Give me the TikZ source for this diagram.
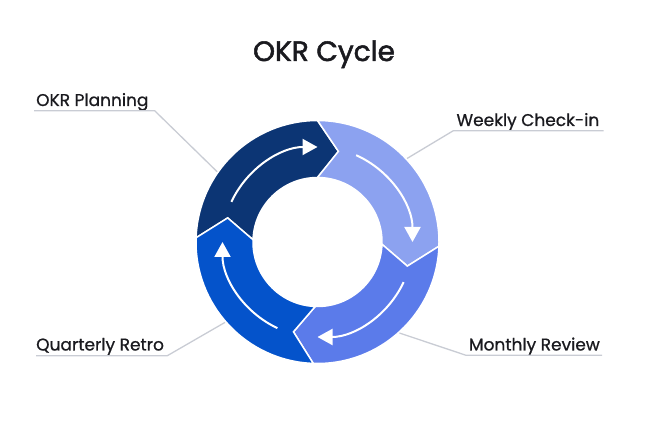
\documentclass[tikz,border=0pt]{standalone}
\usepackage{fontspec}
\setmainfont{Poppins}
\newfontfamily\okrlabelfont{Poppins}[FakeBold=0.9]
\newfontfamily\okrtitlefont{Poppins}[FakeBold=1.8]
\usetikzlibrary{calc,arrows.meta}

\definecolor{okrNavy}{HTML}{0C3574}
\definecolor{okrLight}{HTML}{8CA2F0}
\definecolor{okrMid}{HTML}{5B7BEA}
\definecolor{okrRoyal}{HTML}{0453CB}
\definecolor{okrText}{HTML}{1A1A1F}
\definecolor{okrLine}{HTML}{C9CCD4}

\begin{document}
\begin{tikzpicture}[
  x=1pt, y=1pt,
  seg/.style    = {draw=white, line width=1.5pt, line join=miter},
  cyclearr/.style = {-{Triangle[length=15pt,width=16pt]}, draw=white, line width=2pt},
  label/.style  = {inner sep=0pt, text=okrText, font=\okrlabelfont\fontsize{17}{20}\selectfont},
  leader/.style = {draw=okrLine, line width=1.3pt}
]
\useasboundingbox (0,0) rectangle (650,420);

\coordinate (C) at (317.5,178);

% title
\node[inner sep=0pt, anchor=base, text=okrText, font=\okrtitlefont\fontsize{28}{34}\selectfont] (title) at (324,359) {OKR Cycle};

% ring segments
\filldraw[seg, fill=okrNavy] ($(C)+(178:121.5)$) arc[start angle=178, end angle=90, radius=121.5]
  -- ($(C)+(77:93)$) -- ($(C)+(90:64.5)$) arc[start angle=90, end angle=178, radius=64.5]
  -- ($(C)+(165:93)$) -- cycle;
\filldraw[seg, fill=okrLight] ($(C)+(90:121.5)$) arc[start angle=90, end angle=-2, radius=121.5]
  -- ($(C)+(-15:93)$) -- ($(C)+(-2:64.5)$) arc[start angle=-2, end angle=90, radius=64.5]
  -- ($(C)+(77:93)$) -- cycle;
\filldraw[seg, fill=okrMid] ($(C)+(-2:121.5)$) arc[start angle=-2, end angle=-92, radius=121.5]
  -- ($(C)+(-105:93)$) -- ($(C)+(-92:64.5)$) arc[start angle=-92, end angle=-2, radius=64.5]
  -- ($(C)+(-15:93)$) -- cycle;
\filldraw[seg, fill=okrRoyal] ($(C)+(-92:121.5)$) arc[start angle=-92, end angle=-182, radius=121.5]
  -- ($(C)+(-195:93)$) -- ($(C)+(-182:64.5)$) arc[start angle=-182, end angle=-92, radius=64.5]
  -- ($(C)+(-105:93)$) -- cycle;

% arrows inside the ring
\draw[cyclearr] ($(C)+(155:95)$) arc[start angle=155, end angle=90, radius=95];
\draw[cyclearr] ($(C)+(66:95)$) arc[start angle=66, end angle=0, radius=95];
\draw[cyclearr] ($(C)+(-25:95)$) arc[start angle=-25, end angle=-90, radius=95];
\draw[cyclearr] ($(C)+(-115:95)$) arc[start angle=-115, end angle=-180, radius=95];

% labels
\node[label, anchor=base west] (plan)    at (36,314)    {OKR Planning};
\node[label, anchor=base east] (weekly)  at (599.5,294) {Weekly Check-in};
\node[label, anchor=base west] (retro)   at (36,69.5)   {Quarterly Retro};
\node[label, anchor=base east] (monthly) at (600,69.5)  {Monthly Review};

\coordinate (planEnd)    at ($(C)+(145:122.5)$);
\coordinate (weeklyEnd)  at ($(C)+(43:122.5)$);
\coordinate (retroEnd)   at ($(C)+(221:122.5)$);
\coordinate (monthlyEnd) at ($(C)+(-48:122.5)$);

\draw[leader] ($(plan.base west)+(-2,-4.7)$) -- ($(plan.base east)+(6,-4.7)$) -- (planEnd);
\draw[leader] ($(weekly.base east)+(4,-4.7)$) -- ($(weekly.base west)+(-3,-4.7)$) -- (weeklyEnd);
\draw[leader] ($(retro.base west)+(0,-5.3)$) -- ($(retro.base east)+(3,-5.3)$) -- (retroEnd);
\draw[leader] ($(monthly.base east)+(2,-4.7)$) -- ($(monthly.base west)+(-3,-4.7)$) -- (monthlyEnd);

\end{tikzpicture}
\end{document}
